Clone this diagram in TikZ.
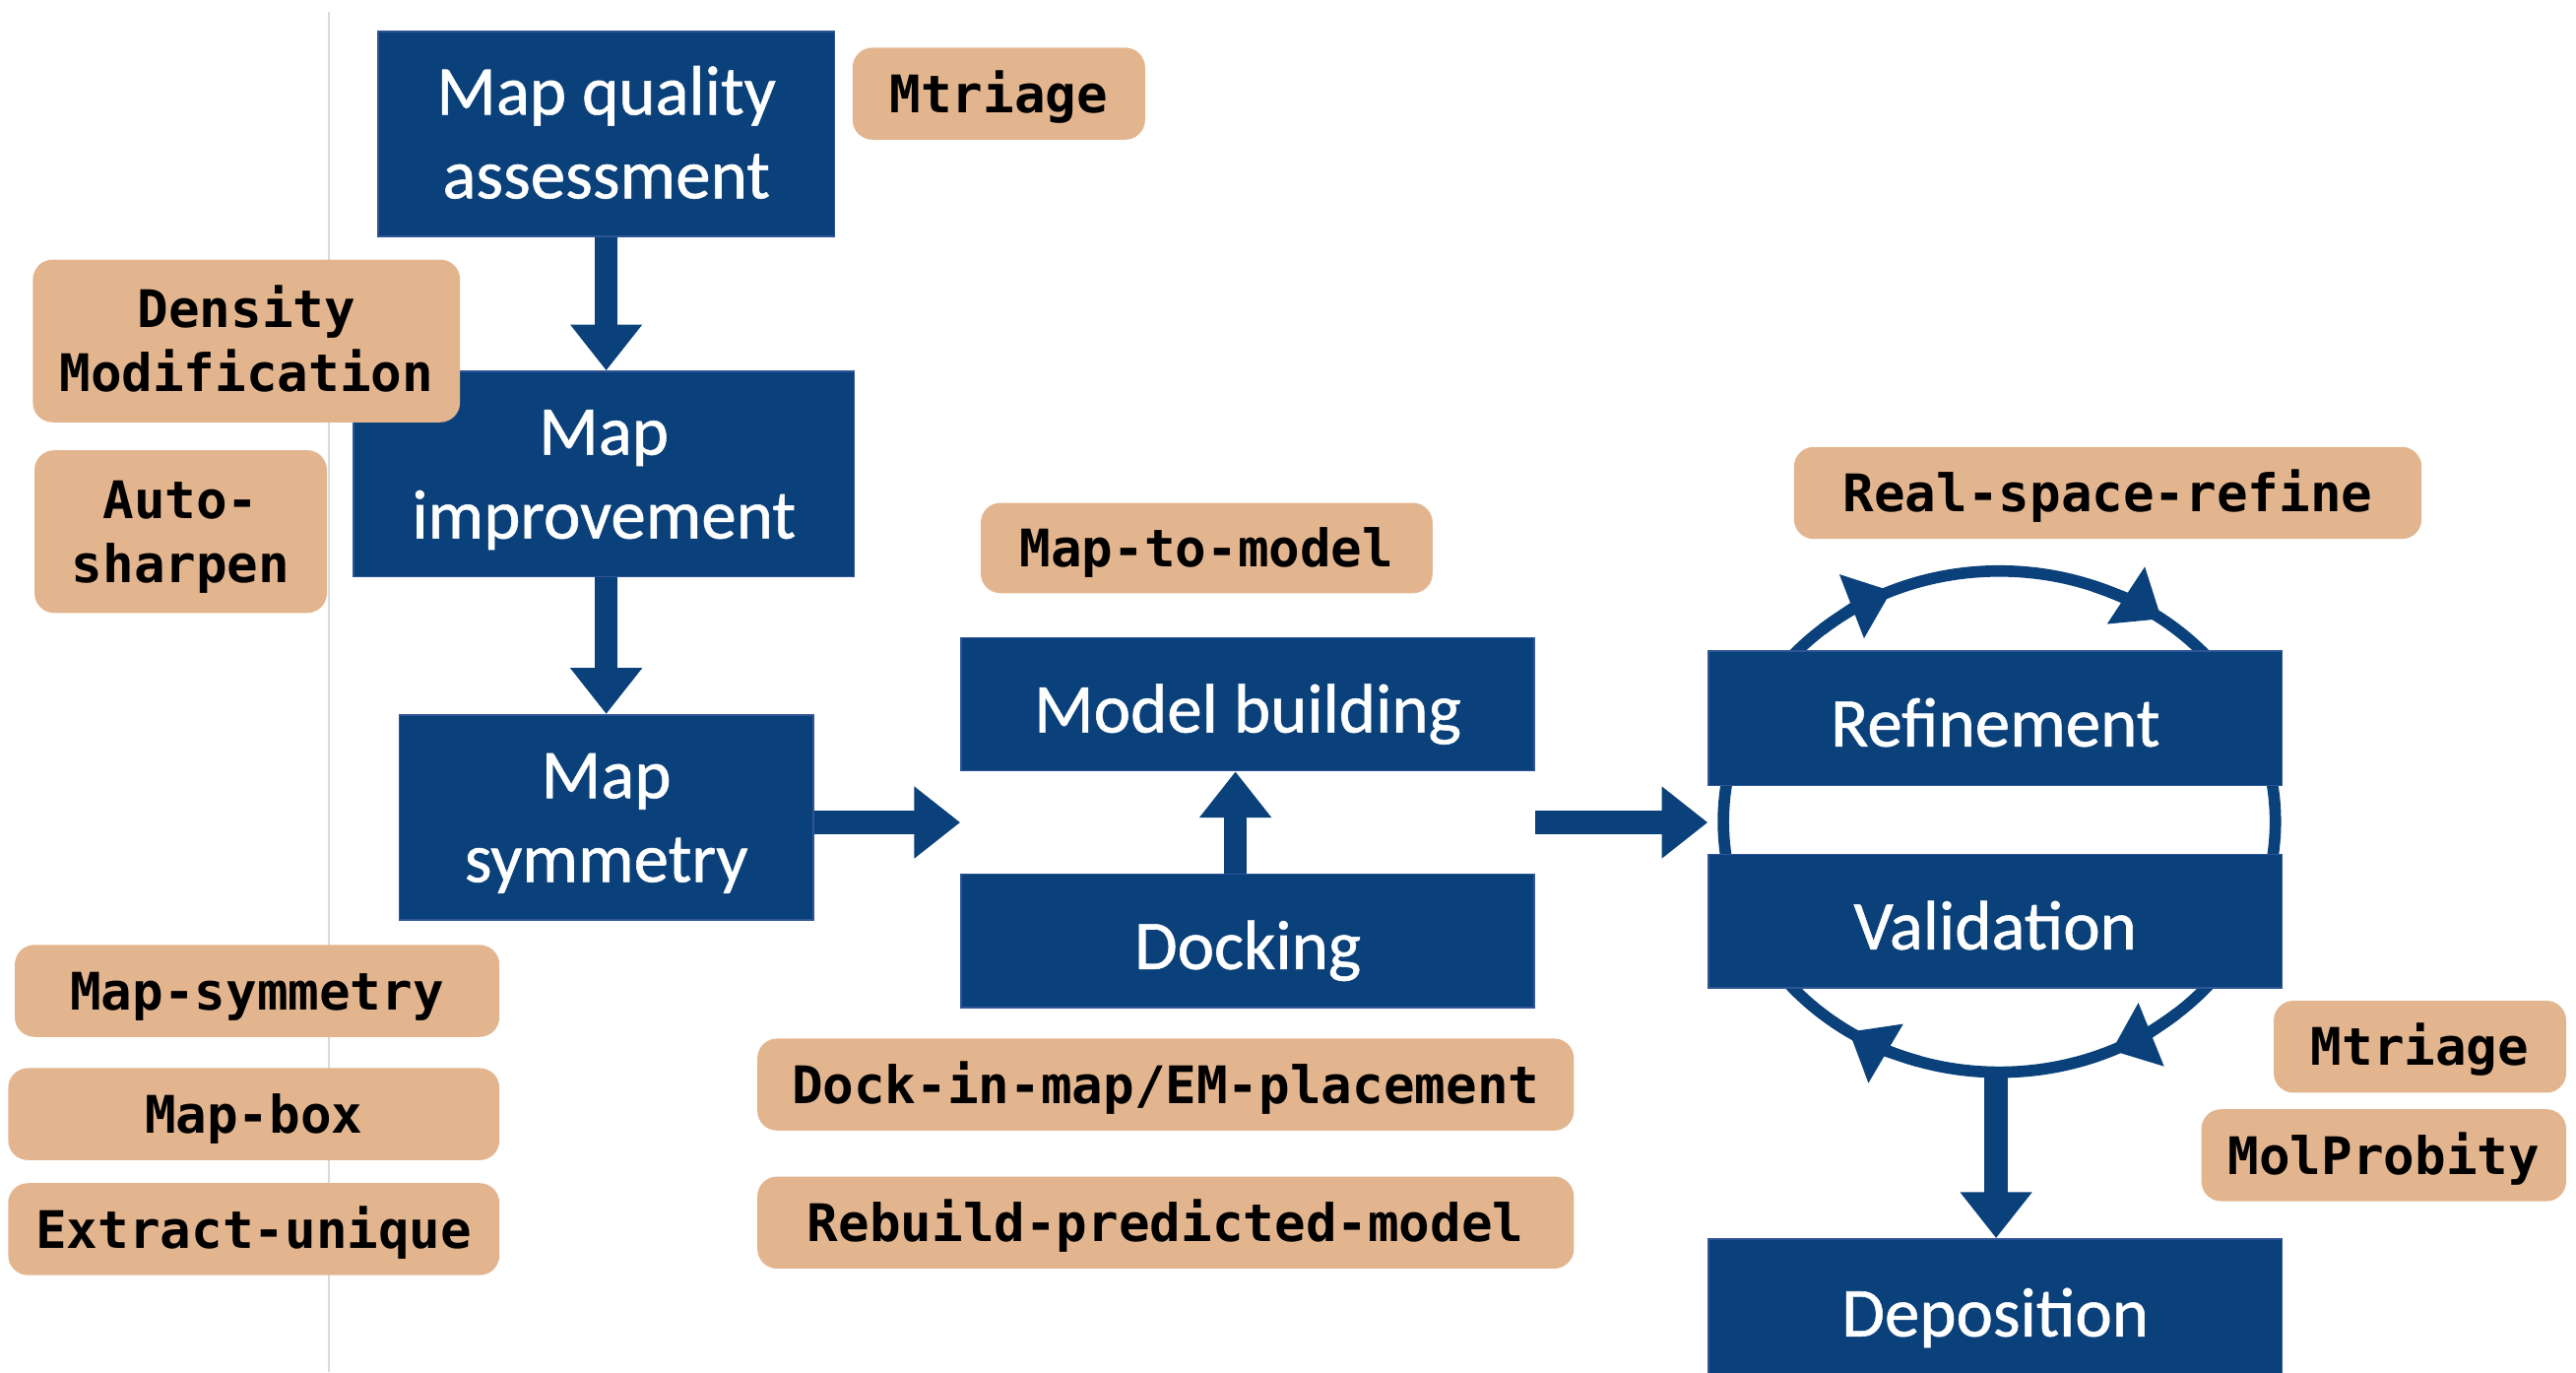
\documentclass[tikz,border=0pt]{standalone}
\usepackage{fontspec}
\usetikzlibrary{arrows.meta,calc}
\newfontfamily\carl{Carlito}[FakeBold=0.8]
\newfontfamily\dmono{DejaVu Sans Mono}
\definecolor{bl}{RGB}{11,65,123}
\definecolor{blb}{RGB}{47,85,151}
\definecolor{tanc}{RGB}{227,181,143}
\definecolor{gl}{RGB}{217,217,217}
\newcommand\hst{\rule{0pt}{1em}}
\newcommand\bsd{\rule[-0.356em]{0pt}{0.356em}}
\newcommand\shst{\rule{0pt}{1.2em}}
\newcommand\sbsd{\rule[-0.39em]{0pt}{0.39em}}
\newcommand\tsd{\rule[-0.271em]{0pt}{0.271em}}
\begin{document}
\begin{tikzpicture}[x=1pt,y=-1pt,
  bluebox/.style={fill=bl, draw=blb, line width=1pt, inner sep=0pt, text=white, align=center,
    font=\carl\fontsize{42.5}{51}\selectfont},
  tanbox/.style={fill=tanc, rounded corners=12pt, inner sep=0pt, text=black, align=center,
    font=\dmono\bfseries\fontsize{31.5}{39}\selectfont},
  blockarrow/.style={draw=bl, line width=14pt, -{Triangle[length=28pt,width=42pt]}},
  cycline/.style={draw=bl, line width=7pt},
  cyctip/.style={draw=bl, line width=7pt, -{Triangle[length=26pt,width=40pt]}}
]
\path[use as bounding box] (0,0) rectangle (1568,835);
\clip (0,0) rectangle (1568,835);

% light separator line
\draw[gl, line width=1.2pt] (200,7) -- (200,835);

% refinement / validation cycle
\coordinate (cc) at (1217,500);
\draw[cycline] (cc) ellipse [x radius=168, y radius=152.5];
\draw[cyctip] ($(cc)+(230:168 and 152.5)$) arc[start angle=230, end angle=247, x radius=168, y radius=152.5];
\draw[cyctip] ($(cc)+(290:168 and 152.5)$) arc[start angle=290, end angle=306, x radius=168, y radius=152.5];
\draw[cyctip] ($(cc)+(50:168 and 152.5)$) arc[start angle=50, end angle=66, x radius=168, y radius=152.5];
\draw[cyctip] ($(cc)+(107:168 and 152.5)$) arc[start angle=107, end angle=123, x radius=168, y radius=152.5];

% blue process boxes
\node[bluebox, minimum width=278pt, minimum height=125pt] (mq) at (369,81.5) {\hst Map quality\\assessment\bsd};
\node[bluebox, minimum width=305pt, minimum height=125pt] (mi) at (367.5,288.5) {\hst Map\\improvement\bsd};
\node[bluebox, minimum width=252pt, minimum height=125pt] (ms) at (369,497.5) {\hst Map\\symmetry\bsd};
\node[bluebox, minimum width=349pt, minimum height=81pt] (mb) at (759.5,428.5) {\shst Model building\sbsd};
\node[bluebox, minimum width=349pt, minimum height=81pt] (dk) at (759.5,572.5) {\shst Docking\sbsd};
\node[bluebox, minimum width=349pt, minimum height=82pt] (rf) at (1214.5,437) {\shst Refinement\sbsd};
\node[bluebox, minimum width=349pt, minimum height=81pt] (va) at (1214.5,560.5) {\shst Validation\sbsd};
\node[bluebox, minimum width=349pt, minimum height=84pt] (dp) at (1214.5,796) {\shst Deposition\sbsd};

% tan tool labels
\node[tanbox, minimum width=178pt, minimum height=56pt] (mt1) at (608,57) {\hst Mtriage\tsd};
\node[tanbox, minimum width=260pt, minimum height=99pt] (dm) at (150,207.5) {\hst Density\\Modification\tsd};
\node[tanbox, minimum width=178pt, minimum height=99pt] (asp) at (110,323.5) {\hst Auto-\\sharpen\tsd};
\node[tanbox, minimum width=275pt, minimum height=55pt] (m2m) at (734.5,333.5) {\hst Map-to-model\tsd};
\node[tanbox, minimum width=382pt, minimum height=56pt] (rsr) at (1283,300) {\hst Real-space-refine\tsd};
\node[tanbox, minimum width=295pt, minimum height=56pt] (msy) at (156.5,603) {\hst Map-symmetry\tsd};
\node[tanbox, minimum width=299pt, minimum height=56pt] (mbx) at (154.5,678) {\hst Map-box\tsd};
\node[tanbox, minimum width=299pt, minimum height=56pt] (eu) at (154.5,748) {\hst Extract-unique\tsd};
\node[tanbox, minimum width=497pt, minimum height=56pt] (dim) at (709.5,660) {\hst Dock-in-map/EM-placement\tsd};
\node[tanbox, minimum width=497pt, minimum height=56pt] (rpm) at (709.5,744) {\hst Rebuild-predicted-model\tsd};
\node[tanbox, minimum width=178pt, minimum height=56pt] (mt2) at (1473,637) {\hst Mtriage\tsd};
\node[tanbox, minimum width=222pt, minimum height=56pt] (mp) at (1451,703) {\hst MolProbity\tsd};

% connectors
\coordinate (mdl) at ($(mb.south west)!0.5!(dk.north west)$);
\coordinate (mdr) at ($(mb.south east)!0.5!(dk.north east)$);
\coordinate (cycS) at (1215,652);
\draw[blockarrow] (mq.south) -- (mq.south |- mi.north);
\draw[blockarrow] (mi.south -| ms.north) -- (ms.north);
\draw[blockarrow] (ms.east |- mdl) -- (mdl);
\draw[blockarrow] ([xshift=-7.5pt]dk.north) -- ([xshift=-7.5pt]mb.south);
\draw[blockarrow] (mdr) -- (rf.west |- mdr);
\draw[blockarrow] (cycS) -- (cycS |- dp.north);
\end{tikzpicture}
\end{document}
